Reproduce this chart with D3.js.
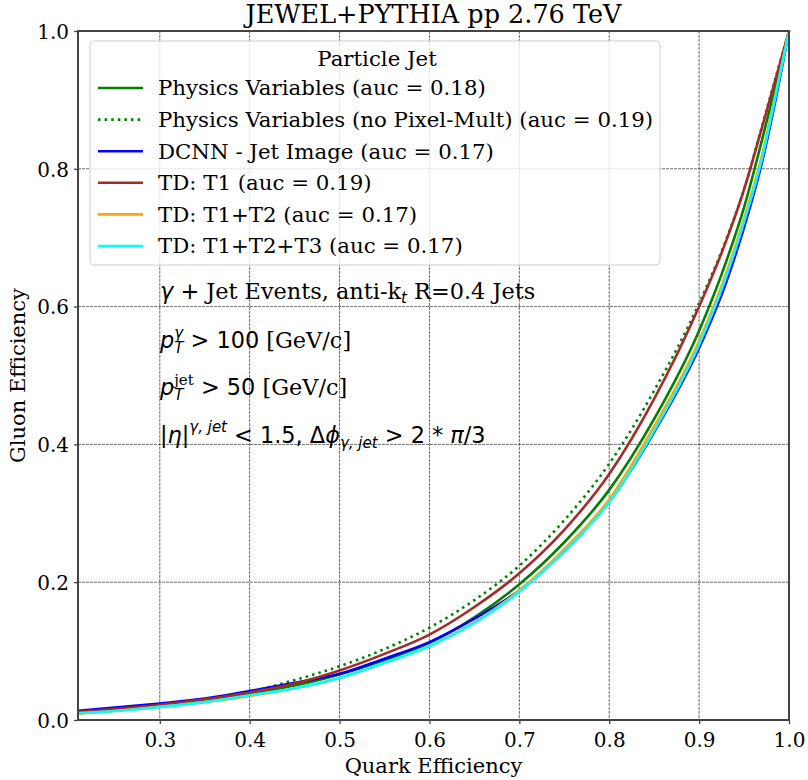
<!DOCTYPE html>
<html>
<head>
<meta charset="utf-8">
<script src="https://cdn.jsdelivr.net/npm/d3@7"></script>
<style>
  body { margin: 0; background: #fff; }
  .serif { font-family: "DejaVu Serif", serif; }
  .sans { font-family: "DejaVu Sans", sans-serif; }
</style>
</head>
<body>
<div id="chart"></div>
<script>
var width = 808,
    height = 780;

// quark efficiency (x) and gluon efficiency (y)
var quarkEff = [0.209, 0.25, 0.3, 0.35, 0.4, 0.45, 0.5, 0.55, 0.6, 0.65, 0.7, 0.75, 0.8, 0.85, 0.9, 0.93, 0.95, 0.97, 0.985, 1.0];

var physVars    = [0.010, 0.014, 0.020, 0.028, 0.038, 0.050, 0.066, 0.087, 0.112, 0.149, 0.197, 0.258, 0.334, 0.437, 0.565, 0.665, 0.744, 0.842, 0.920, 1.0];
var physNoPix   = [0.011, 0.015, 0.021, 0.030, 0.041, 0.058, 0.078, 0.103, 0.134, 0.174, 0.224, 0.290, 0.372, 0.478, 0.605, 0.697, 0.770, 0.862, 0.932, 1.0];
var dcnn        = [0.0135, 0.018, 0.024, 0.031, 0.042, 0.054, 0.067, 0.089, 0.113, 0.147, 0.188, 0.245, 0.317, 0.418, 0.540, 0.635, 0.715, 0.810, 0.900, 1.0];
var tdT1        = [0.012, 0.016, 0.022, 0.030, 0.040, 0.053, 0.072, 0.096, 0.124, 0.164, 0.213, 0.276, 0.357, 0.466, 0.600, 0.695, 0.770, 0.860, 0.930, 1.0];
var tdT1T2      = [0.009, 0.013, 0.019, 0.026, 0.035, 0.046, 0.061, 0.083, 0.108, 0.142, 0.188, 0.248, 0.320, 0.426, 0.550, 0.648, 0.728, 0.820, 0.908, 1.0];
var tdT1T2T3    = [0.010, 0.013, 0.019, 0.026, 0.036, 0.046, 0.061, 0.083, 0.107, 0.141, 0.186, 0.245, 0.316, 0.420, 0.545, 0.643, 0.723, 0.815, 0.905, 1.0];

var seriesNames = [
  "Physics Variables (auc = 0.18)",
  "Physics Variables (no Pixel-Mult) (auc = 0.19)",
  "DCNN - Jet Image (auc = 0.17)",
  "TD: T1 (auc = 0.19)",
  "TD: T1+T2 (auc = 0.17)",
  "TD: T1+T2+T3 (auc = 0.17)"
];
var seriesValues = [physVars, physNoPix, dcnn, tdT1, tdT1T2, tdT1T2T3];
var seriesColors = ["green", "green", "blue", "brown", "orange", "cyan"];
var seriesDash = [null, "2.5,4.1", null, null, null, null];

var xTicks = [0.3, 0.4, 0.5, 0.6, 0.7, 0.8, 0.9, 1.0];
var yTicks = [0.0, 0.2, 0.4, 0.6, 0.8, 1.0];

var pLeft = 78, pRight = 789, pTop = 31, pBottom = 720;

var svg = d3.select("#chart").append("svg")
    .attr("width", width)
    .attr("height", height);

var x = d3.scaleLinear().domain([0.209, 1.0]).range([pLeft, pRight]);
var y = d3.scaleLinear().domain([0, 1]).range([pBottom, pTop]);

// grid
var grid = svg.append("g");
grid.selectAll("line.gx").data(xTicks).enter().append("line")
    .attr("x1", function (d) { return x(d); }).attr("x2", function (d) { return x(d); })
    .attr("y1", pTop).attr("y2", pBottom)
    .attr("stroke", "#222").attr("stroke-opacity", 0.75)
    .attr("stroke-width", 0.9).attr("stroke-dasharray", "3,1");
grid.selectAll("line.gy").data(yTicks).enter().append("line")
    .attr("y1", function (d) { return y(d); }).attr("y2", function (d) { return y(d); })
    .attr("x1", pLeft).attr("x2", pRight)
    .attr("stroke", "#222").attr("stroke-opacity", 0.75)
    .attr("stroke-width", 0.9).attr("stroke-dasharray", "3,1");

// curves
var line = d3.line()
    .x(function (d) { return x(d[0]); })
    .y(function (d) { return y(d[1]); })
    .curve(d3.curveMonotoneX);

var curves = svg.append("g");
seriesValues.forEach(function (vals, i) {
  var pts = quarkEff.map(function (q, j) { return [q, vals[j]]; });
  curves.append("path")
      .attr("d", line(pts))
      .attr("fill", "none")
      .attr("stroke", seriesColors[i])
      .attr("stroke-width", 2.6)
      .attr("stroke-dasharray", seriesDash[i]);
});

// axes
var xAxis = svg.append("g")
    .attr("transform", "translate(0," + pBottom + ")")
    .call(d3.axisBottom(x).tickValues(xTicks).tickFormat(d3.format(".1f")).tickSize(4).tickSizeOuter(0));
var yAxis = svg.append("g")
    .attr("transform", "translate(" + pLeft + ",0)")
    .call(d3.axisLeft(y).tickValues(yTicks).tickFormat(d3.format(".1f")).tickSize(4).tickSizeOuter(0));
[xAxis, yAxis].forEach(function (a) {
  a.select(".domain").remove();
  a.selectAll(".tick line").attr("stroke", "#444").attr("stroke-width", 1.3);
  a.selectAll(".tick text").attr("class", "serif").attr("font-size", "20px").attr("fill", "#000");
});
xAxis.selectAll(".tick text").attr("y", 0).attr("dy", 27);
yAxis.selectAll(".tick text").attr("dy", "0.36em").attr("x", -9);

svg.append("rect")
    .attr("x", pLeft).attr("y", pTop)
    .attr("width", pRight - pLeft).attr("height", pBottom - pTop)
    .attr("fill", "none").attr("stroke", "#444").attr("stroke-width", 2);

// titles
svg.append("text").attr("class", "serif")
    .attr("x", (pLeft + pRight) / 2).attr("y", 23)
    .attr("text-anchor", "middle").attr("font-size", "25.5px")
    .text("JEWEL+PYTHIA pp 2.76 TeV");
svg.append("text").attr("class", "serif")
    .attr("x", (pLeft + pRight) / 2).attr("y", 773)
    .attr("text-anchor", "middle").attr("font-size", "21px")
    .text("Quark Efficiency");
svg.append("text").attr("class", "serif")
    .attr("transform", "translate(25," + (pTop + pBottom) / 2 + ") rotate(-90)")
    .attr("text-anchor", "middle").attr("font-size", "21px")
    .text("Gluon Efficiency");

// legend
var legend = svg.append("g");
legend.append("rect")
    .attr("x", 90).attr("y", 41).attr("width", 570).attr("height", 224)
    .attr("rx", 4)
    .attr("fill", "#fff").attr("fill-opacity", 0.8)
    .attr("stroke", "#d0d0d0").attr("stroke-width", 1);
legend.append("text").attr("class", "serif")
    .attr("x", 377).attr("y", 66)
    .attr("text-anchor", "middle").attr("font-size", "21.3px")
    .text("Particle Jet");
seriesNames.forEach(function (name, i) {
  var ly = 88 + i * 31.6;
  legend.append("line")
      .attr("x1", 98).attr("x2", 143).attr("y1", ly).attr("y2", ly)
      .attr("stroke", seriesColors[i]).attr("stroke-width", 2.6)
      .attr("stroke-dasharray", seriesDash[i]);
  legend.append("text").attr("class", "serif")
      .attr("x", 158).attr("y", ly).attr("dy", "0.35em")
      .attr("font-size", "21.3px")
      .text(name);
});

// annotation lines, built piece by piece
function rich(x0, y0, parts) {
  var cx = x0, stackStart = null, stackMax = 0;
  parts.forEach(function (p) {
    var t = svg.append("text")
        .attr("class", p.f === "serif" ? "serif" : "sans")
        .attr("font-size", (p.s || 22.4) + "px")
        .attr("font-style", p.it ? "italic" : "normal")
        .attr("y", y0 + (p.dy || 0))
        .style("white-space", "pre")
        .text(p.t);
    if (p.stack === "sup") {
      stackStart = cx;
      t.attr("x", cx);
      stackMax = t.node().getComputedTextLength();
    } else if (p.stack === "sub") {
      t.attr("x", stackStart);
      var w = t.node().getComputedTextLength();
      cx = stackStart + Math.max(stackMax, w);
    } else {
      t.attr("x", cx);
      cx += t.node().getComputedTextLength();
    }
  });
}

rich(160, 299, [
  {t: "\u03b3", it: true}, {t: " + "}, {t: "Jet Events, anti-k", f: "serif"},
  {t: "t", it: true, s: 15, dy: 4}, {t: " R=0.4 Jets", f: "serif"}
]);
rich(160, 348, [
  {t: "p", it: true}, {t: "\u03b3", it: true, s: 15, dy: -10, stack: "sup"},
  {t: "T", it: true, s: 15, dy: 5, stack: "sub"},
  {t: " > 100 "}, {t: "[GeV/c]", f: "serif"}
]);
rich(160, 395, [
  {t: "p", it: true}, {t: "jet", f: "serif", s: 15, dy: -10, stack: "sup"},
  {t: "T", it: true, s: 15, dy: 5, stack: "sub"},
  {t: " > 50 "}, {t: "[GeV/c]", f: "serif"}
]);
rich(160, 443, [
  {t: "|"}, {t: "\u03b7", it: true}, {t: "|"},
  {t: "\u03b3, jet", it: true, s: 15, dy: -11},
  {t: " < 1.5, \u0394"}, {t: "\u03d5", it: true},
  {t: "\u03b3, jet", it: true, s: 15, dy: 5},
  {t: " > 2 * "}, {t: "\u03c0", it: true}, {t: "/3"}
]);
</script>
</body>
</html>
